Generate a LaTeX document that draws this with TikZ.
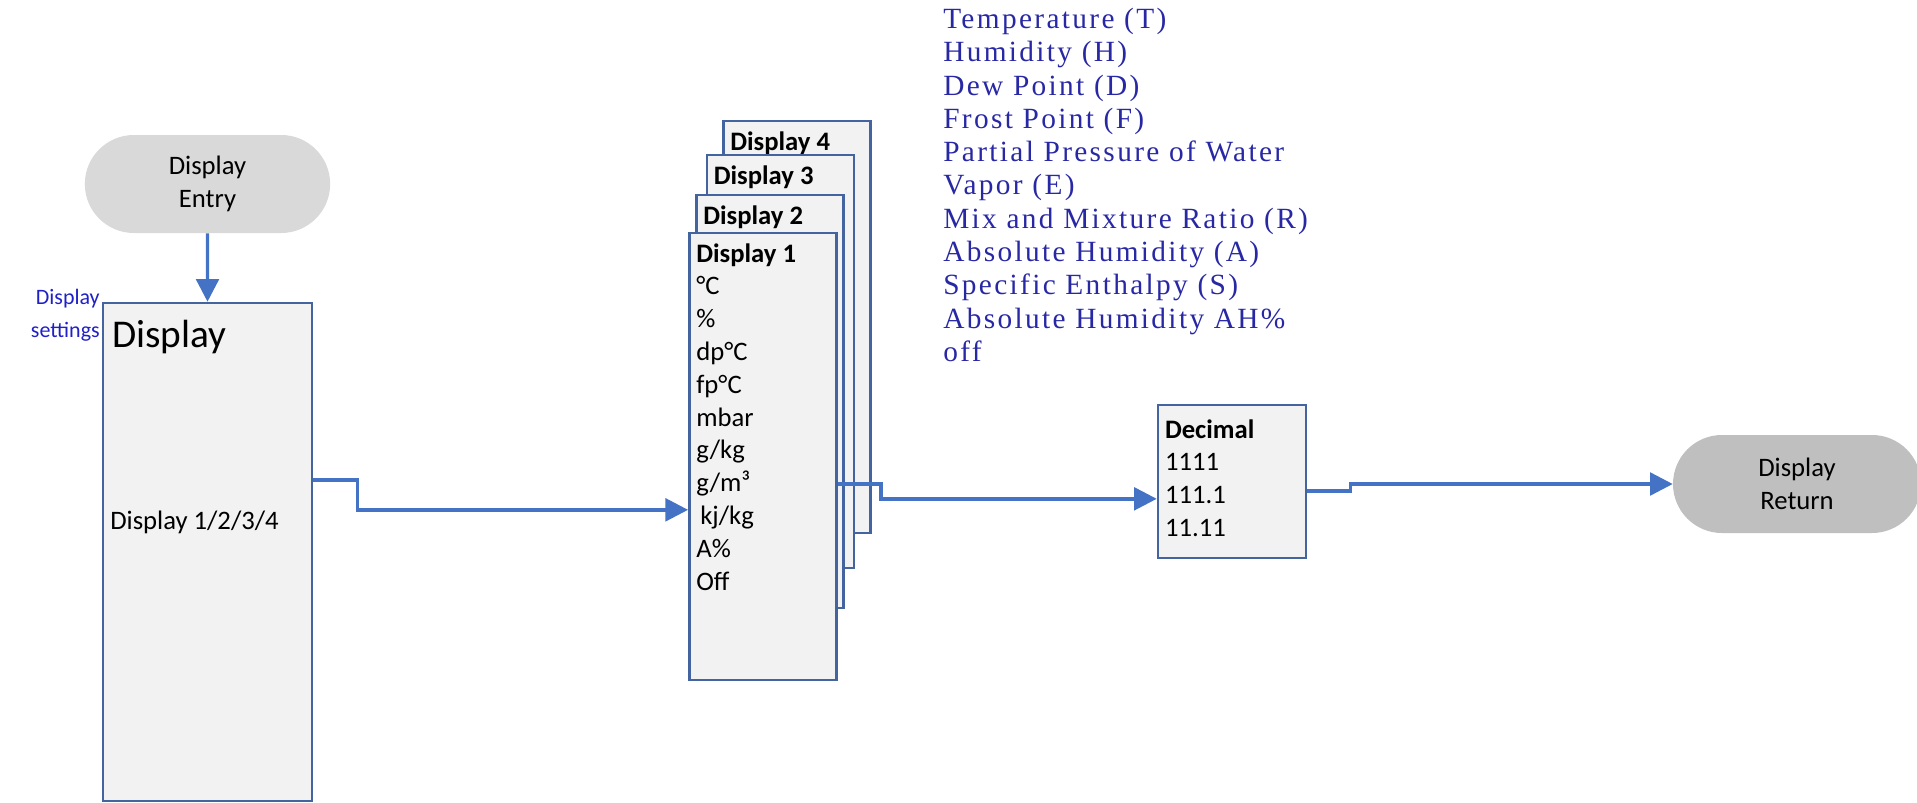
\documentclass[tikz,border=0pt]{standalone}
\usepackage{fontspec}
\setmainfont{Carlito}
\newfontfamily\listfont{Liberation Serif}[LetterSpace=8]
\usetikzlibrary{arrows.meta,shapes.misc}
\definecolor{lineblue}{RGB}{68,114,196}
\definecolor{edgeblue}{RGB}{68,100,160}
\definecolor{panelgray}{RGB}{242,242,242}
\definecolor{termlight}{RGB}{217,217,217}
\definecolor{termdark}{RGB}{191,191,191}
\definecolor{listblue}{RGB}{40,40,165}
\definecolor{setblue}{RGB}{32,32,200}
\tikzset{
  >={Triangle[length=17pt,width=17pt]},
  term/.style={rounded rectangle,fill=#1,minimum width=184pt,minimum height=73.5pt,
    inner sep=0pt,align=center,font=\fontsize{20}{24.5}\selectfont},
  term/.default=termlight,
  panel/.style={draw=edgeblue,fill=panelgray,line width=1.9pt,inner sep=0pt},
  flow/.style={->,line width=2.5pt,draw=lineblue},
  head/.style={anchor=west,inner sep=0pt,font=\fontsize{20}{24}\selectfont\bfseries},
  entries/.style={anchor=north west,inner sep=0pt,align=left,font=\fontsize{20}{24.6}\selectfont},
}
\begin{document}
\begin{tikzpicture}[x=0.75pt,y=-0.75pt]
    \useasboundingbox (0,0) rectangle (1917,803);
    \node[term] (entry) at (207.5,184) {Display\\Entry};
    \node[panel,minimum width=156.75pt,minimum height=373.5pt] (disp) at (207.5,552) {};
    \node[anchor=base west,inner sep=0pt,font=\fontsize{29.5}{31}\selectfont] (disphead) at (112,347) {Display};
    \node[anchor=west,inner sep=0pt,font=\fontsize{20}{24}\selectfont] (dispsel) at (110,522) {Display 1/2/3/4};
    \node[anchor=north east,inner sep=0pt,align=right,text=setblue,font=\fontsize{16.5}{25}\selectfont] (settings) at (100,289) {Display\\settings};
    \draw[flow] (entry) -- (disp);
    % stacked displays, back to front
    \foreach \n/\cx/\cy/\h in {4/797/327/412,3/780.5/361.5/413,2/770/401.5/413,1/763/456.5/447}{
      \node[panel,minimum width=110.5pt,minimum height=\h*0.75pt] (d\n) at (\cx,\cy) {};
      \node[head] (h\n) at ([xshift=6pt,yshift=-18pt]d\n.north west) {Display \n};
    }
    \node[entries] (units) at ([xshift=6pt,yshift=-33.5pt]d1.north west) {°C\\\%\\dp°C\\fp°C\\mbar\\g/kg\\g/m³\\\hspace*{3pt}kj/kg\\A\%\\Off};
    \draw[flow] ([yshift=54pt]disp.east) -- ++(44,0) |- ([yshift=-40pt]d1.west);
    \node[anchor=north west,inner sep=0pt,align=left,text=listblue,font={\listfont\fontsize{22}{24.95}\selectfont}] (quantities) at (943,8)
      {Temperature (T)\\Humidity (H)\\Dew Point (D)\\Frost Point (F)\\Partial Pressure of Water\\Vapor (E)\\Mix and Mixture Ratio (R)\\Absolute Humidity (A)\\Specific Enthalpy (S)\\Absolute Humidity AH\%\\off};
    \node[panel,minimum width=111pt,minimum height=114.75pt] (dec) at (1232,481.5) {};
    \node[head] (dechead) at ([xshift=6pt,yshift=-19pt]dec.north west) {Decimal};
    \node[entries] (decvals) at ([xshift=6pt,yshift=-37pt]dec.north west) {1111\\111.1\\11.11};
    \draw[flow] ([yshift=-20.6pt]d1.east) -- ++(43,0) |- ([yshift=-13pt]dec.west);
    \node[term=termdark,minimum width=186pt] (ret) at (1797,484) {Display\\Return};
    \draw[flow] ([yshift=-7pt]dec.east) -- ++(43,0) |- (ret);
\end{tikzpicture}
\end{document}
